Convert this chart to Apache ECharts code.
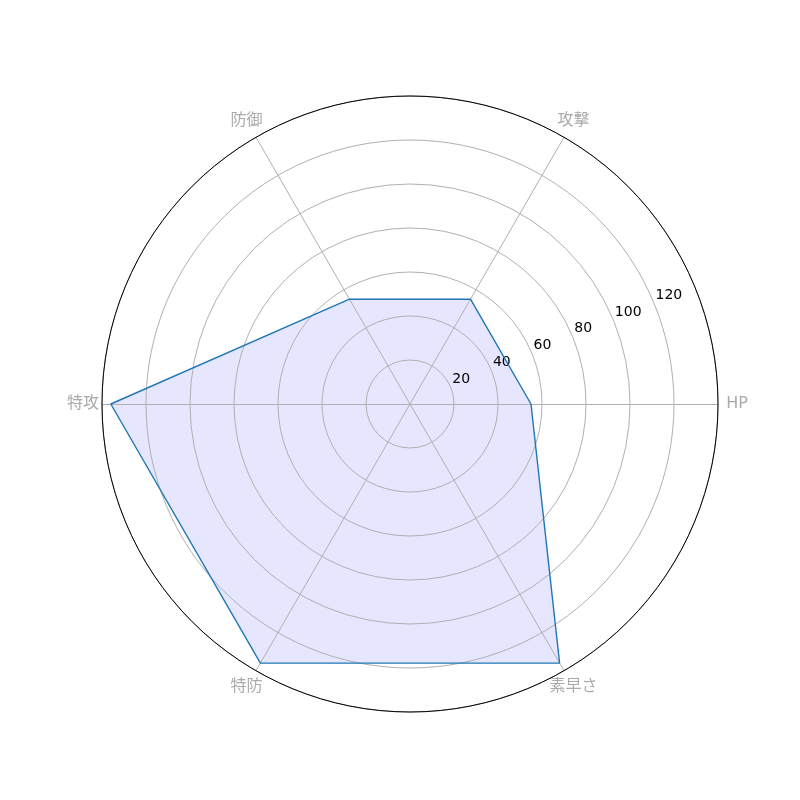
<!DOCTYPE html>
<html>
<head>
<meta charset="utf-8">
<script src="https://cdn.jsdelivr.net/npm/echarts@6/dist/echarts.min.js"></script>
<style>html,body{margin:0;padding:0;background:#fff;}#c{width:800px;height:800px;}</style>
</head>
<body>
<div id="c"></div>
<script>
const categories = ['HP', '攻撃', '防御', '特攻', '特防', '素早さ'];
const values = [55, 55, 55, 136, 136, 136];
const radialTicks = [20, 40, 60, 80, 100, 120];
const rMax = 140;
const rStep = 20;

const chart = echarts.init(document.getElementById('c'), null, {renderer: 'canvas'});
const CENTER = [410, 404];
const RADIUS = 308;
const option = {
  backgroundColor: '#ffffff',
  animation: false,
  radar: {
    center: CENTER,
    radius: RADIUS,
    startAngle: 0,
    shape: 'circle',
    splitNumber: 7,
    z: 2,
    indicator: categories.map(n => ({name: n, min: 0, max: rMax})),
    nameGap: 19,
    axisName: {
      color: '#aaaaaa',
      fontSize: 16,
      fontFamily: 'DejaVu Sans, "Noto Sans CJK JP"',
      align: 'center',
      verticalAlign: 'middle'
    },
    axisLine: {lineStyle: {color: '#b0b0b0', width: 1}},
    splitLine: {show: false},
    splitArea: {show: false},
    axisTick: {show: false},
    axisLabel: {show: false}
  },
  polar: {center: CENTER, radius: RADIUS},
  angleAxis: {
    type: 'value', min: 0, max: 360, startAngle: 22.5, clockwise: false,
    z: 3,
    axisLine: {show: true, lineStyle: {color: '#000000', width: 1}},
    axisTick: {show: false}, axisLabel: {show: false}, splitLine: {show: false}
  },
  radiusAxis: {
    type: 'value', min: 0, max: rMax, interval: rStep,
    z: 2,
    axisLine: {show: false}, axisTick: {show: false},
    splitLine: {show: true, lineStyle: {color: '#b0b0b0', width: 1}},
    axisLabel: {
      show: true,
      margin: 1,
      padding: [0, 0, 0, 2],
      align: 'left',
      verticalAlign: 'bottom',
      color: '#000000',
      fontSize: 14,
      fontFamily: 'DejaVu Sans',
      formatter: v => radialTicks.indexOf(v) >= 0 ? String(v) : ''
    }
  },
  series: [
    {
      type: 'radar', z: 1, symbol: 'none',
      lineStyle: {width: 0, opacity: 0},
      areaStyle: {color: '#e6e6ff', opacity: 1},
      data: [{value: values}]
    },
    {
      type: 'radar', z: 5, symbol: 'none',
      lineStyle: {color: '#1f77b4', width: 1.4},
      data: [{value: values}]
    }
  ]
};
chart.setOption(option);
</script>
</body>
</html>
